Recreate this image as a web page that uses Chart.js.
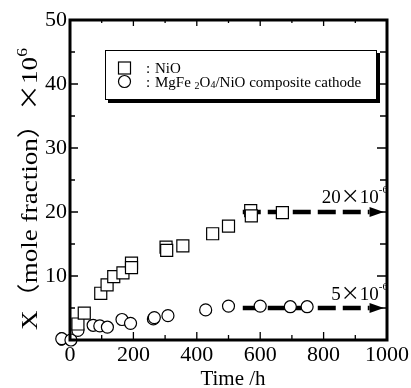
<!DOCTYPE html>
<html><head><meta charset="utf-8">
<script src="https://cdn.jsdelivr.net/npm/chart.js@4/dist/chart.umd.min.js"></script>
<style>html,body{margin:0;padding:0;background:#fff;}canvas{display:block;}</style>
</head><body>
<canvas id="c" width="411" height="388"></canvas>
<script>
// ---- data ----
const nioTime = [25, 45, 97, 117, 138, 167, 194, 194, 303, 305, 356, 450, 500, 570, 572, 670];
const nioX    = [2.5, 4.2, 7.3, 8.6, 9.9, 10.5, 12.0, 11.3, 14.5, 14.0, 14.7, 16.6, 17.8, 20.2, 19.4, 19.9];
const compTime = [-26, 3, 25, 73, 94, 118, 164, 191, 263, 266, 309, 428, 500, 600, 695, 748];
const compX    = [0.2, 0, 1.5, 2.3, 2.2, 2.0, 3.2, 2.6, 3.3, 3.5, 3.8, 4.7, 5.3, 5.3, 5.2, 5.2];
const xTicks = [0, 200, 400, 600, 800, 1000];
const yTicks = [0, 10, 20, 30, 40, 50];
const seriesNames = ['NiO', 'MgFe2O4/NiO composite cathode'];
const limitLevels = [20, 5];
const limitMantissa = ['20', '5'];
const limitStart = 545;
const limitEnd = 945;
const arrowTip = 990;

const SERIF = "'Liberation Serif', 'Times New Roman', serif";
const CJK = "'Noto Sans CJK JP', sans-serif";

function measureParts(ctx, parts) {
  let w = 0;
  parts.forEach(p => { ctx.font = p.size + 'px ' + (p.f || SERIF); w += ctx.measureText(p.t).width; });
  return w;
}
function drawParts(ctx, parts, x, y, align) {
  const w = measureParts(ctx, parts);
  let cx = align === 'right' ? x - w : (align === 'center' ? x - w / 2 : x);
  ctx.textAlign = 'left';
  ctx.textBaseline = 'alphabetic';
  parts.forEach(p => {
    ctx.font = p.size + 'px ' + (p.f || SERIF);
    ctx.fillText(p.t, cx, y + (p.dy || 0));
    cx += ctx.measureText(p.t).width;
  });
}

// let markers just outside the plot (e.g. negative time) still be drawn
const widenArea = {
  id: 'widenArea',
  beforeDatasetsDraw(chart) {
    chart._savedLeft = chart.chartArea.left;
    chart.chartArea.left -= 20;
  },
  afterDatasetsDraw(chart) {
    chart.chartArea.left = chart._savedLeft;
  }
};

const deco = {
  id: 'deco',
  afterDatasetsDraw(chart) {
    const ctx = chart.ctx;
    const xs = chart.scales.x, ys = chart.scales.y;
    const L = xs.left, R = xs.right, T = ys.top, B = ys.bottom;
    ctx.save();
    ctx.fillStyle = '#000';
    ctx.strokeStyle = '#000';
    // arrowheads
    limitLevels.forEach(v => {
      const py = ys.getPixelForValue(v);
      const tip = xs.getPixelForValue(arrowTip);
      const base = xs.getPixelForValue(limitEnd);
      ctx.beginPath();
      ctx.moveTo(tip, py);
      ctx.lineTo(base, py - 5);
      ctx.lineTo(base, py + 5);
      ctx.closePath();
      ctx.fill();
    });
    // frame
    ctx.lineWidth = 3;
    ctx.strokeRect(L, T, R - L, B - T);
    // inward ticks
    ctx.lineWidth = 1.3;
    ctx.beginPath();
    for (let v = 0; v <= 1000; v += 100) {
      const px = xs.getPixelForValue(v);
      const len = (v % 200 === 0) ? 8 : 5;
      ctx.moveTo(px, B); ctx.lineTo(px, B - len);
      ctx.moveTo(px, T); ctx.lineTo(px, T + len - 2);
    }
    for (let v = 0; v <= 50; v += 5) {
      const py = ys.getPixelForValue(v);
      const len = (v % 10 === 0) ? 8 : 5;
      ctx.moveTo(L, py); ctx.lineTo(L + len, py);
      ctx.moveTo(R, py); ctx.lineTo(R - len - 2, py);
    }
    ctx.stroke();

    // y axis title (full-width brackets and times sign, stretched to the reference length)
    const yt = [
      {t: 'X', size: 23},
      {t: '（', size: 23, f: CJK},
      {t: 'mole fraction', size: 23},
      {t: '）', size: 23, f: CJK},
      {t: '×', size: 23, f: CJK},
      {t: '10', size: 23},
      {t: '6', size: 15, dy: -10}
    ];
    const ytw = measureParts(ctx, yt);
    ctx.save();
    ctx.translate(29, 189);
    ctx.rotate(-Math.PI / 2);
    ctx.scale(282 / ytw, 1);
    drawParts(ctx, yt, 0, 8, 'center');
    ctx.restore();

    // x axis title
    ctx.font = '21px ' + SERIF;
    ctx.textAlign = 'center';
    ctx.textBaseline = 'alphabetic';
    ctx.fillText('Time /h', 233, 385);

    // limit annotations
    const offs = [-9, -8];
    limitLevels.forEach((v, i) => {
      drawParts(ctx, [
        {t: limitMantissa[i], size: 19},
        {t: '×', size: 19, f: CJK},
        {t: '10', size: 19},
        {t: '-6', size: 11, dy: -10}
      ], 388, ys.getPixelForValue(v) + offs[i], 'right');
    });

    // legend box with shadow
    const bx = 105, by = 50, bw = 271, bh = 49;
    ctx.fillStyle = '#000';
    ctx.fillRect(bx + 3, by + bh, bw + 1, 4);
    ctx.fillRect(bx + bw, by + 3, 4, bh + 1);
    ctx.fillStyle = '#fff';
    ctx.fillRect(bx, by, bw, bh);
    ctx.lineWidth = 1;
    ctx.strokeRect(bx + 0.5, by + 0.5, bw, bh);
    // legend symbols
    ctx.lineWidth = 1.2;
    ctx.strokeRect(118.5, 62, 12, 12);
    ctx.beginPath();
    ctx.arc(124.5, 81.5, 6, 0, Math.PI * 2);
    ctx.stroke();
    ctx.fillStyle = '#000';
    ctx.font = '15px ' + SERIF;
    ctx.textAlign = 'left';
    ctx.fillText(':', 146, 73);
    ctx.fillText(':', 146, 87);
    drawParts(ctx, [{t: seriesNames[0], size: 15}], 155, 73, 'left');
    drawParts(ctx, [
      {t: 'MgFe ', size: 15},
      {t: '2', size: 10, dy: 2},
      {t: 'O', size: 15},
      {t: '4', size: 10, dy: 1},
      {t: '/NiO composite cathode', size: 15}
    ], 155, 87, 'left');
    ctx.restore();
  }
};

const pts = (xs, ys) => xs.map((x, i) => ({x: x, y: ys[i]}));

new Chart(document.getElementById('c'), {
  type: 'scatter',
  data: {
    datasets: [
      {
        label: seriesNames[0],
        data: pts(nioTime, nioX),
        pointStyle: 'rect', pointRadius: 8.5, pointBorderWidth: 1.2,
        pointBackgroundColor: '#fff', pointBorderColor: '#000',
        showLine: false, order: 0, clip: false
      },
      {
        label: seriesNames[1],
        data: pts(compTime, compX),
        pointStyle: 'circle', pointRadius: 6, pointBorderWidth: 1.2,
        pointBackgroundColor: '#fff', pointBorderColor: '#000',
        showLine: false, order: 0, clip: false
      },
      ...limitLevels.map(v => ({
        label: 'limit',
        data: [{x: limitStart, y: v}, {x: limitEnd, y: v}],
        showLine: true, pointRadius: 0, borderColor: '#000', borderWidth: 4.5,
        borderDash: [18, 7], borderCapStyle: 'butt', order: 1
      }))
    ]
  },
  options: {
    responsive: false,
    devicePixelRatio: 1,
    animation: false,
    events: [],
    layout: {padding: {left: 0, right: 23, top: 20, bottom: 0}},
    plugins: {legend: {display: false}, tooltip: {enabled: false}},
    scales: {
      x: {
        type: 'linear', min: 0, max: 1000,
        afterBuildTicks: s => { s.ticks = xTicks.map(v => ({value: v})); },
        afterFit: s => { s.height = 48; },
        grid: {display: false, drawTicks: false},
        border: {display: false},
        ticks: {color: '#000', font: {family: SERIF, size: 22}, padding: 2, maxRotation: 0, autoSkip: false,
                callback: v => String(v)}
      },
      y: {
        type: 'linear', min: 0, max: 50,
        afterBuildTicks: s => { s.ticks = yTicks.map(v => ({value: v})); },
        afterFit: s => { s.width = 70; },
        grid: {display: false, drawTicks: false},
        border: {display: false},
        ticks: {color: '#000', font: {family: SERIF, size: 22}, padding: 3, autoSkip: false,
                callback: v => String(v)}
      }
    }
  },
  plugins: [widenArea, deco]
});
</script>
</body></html>
